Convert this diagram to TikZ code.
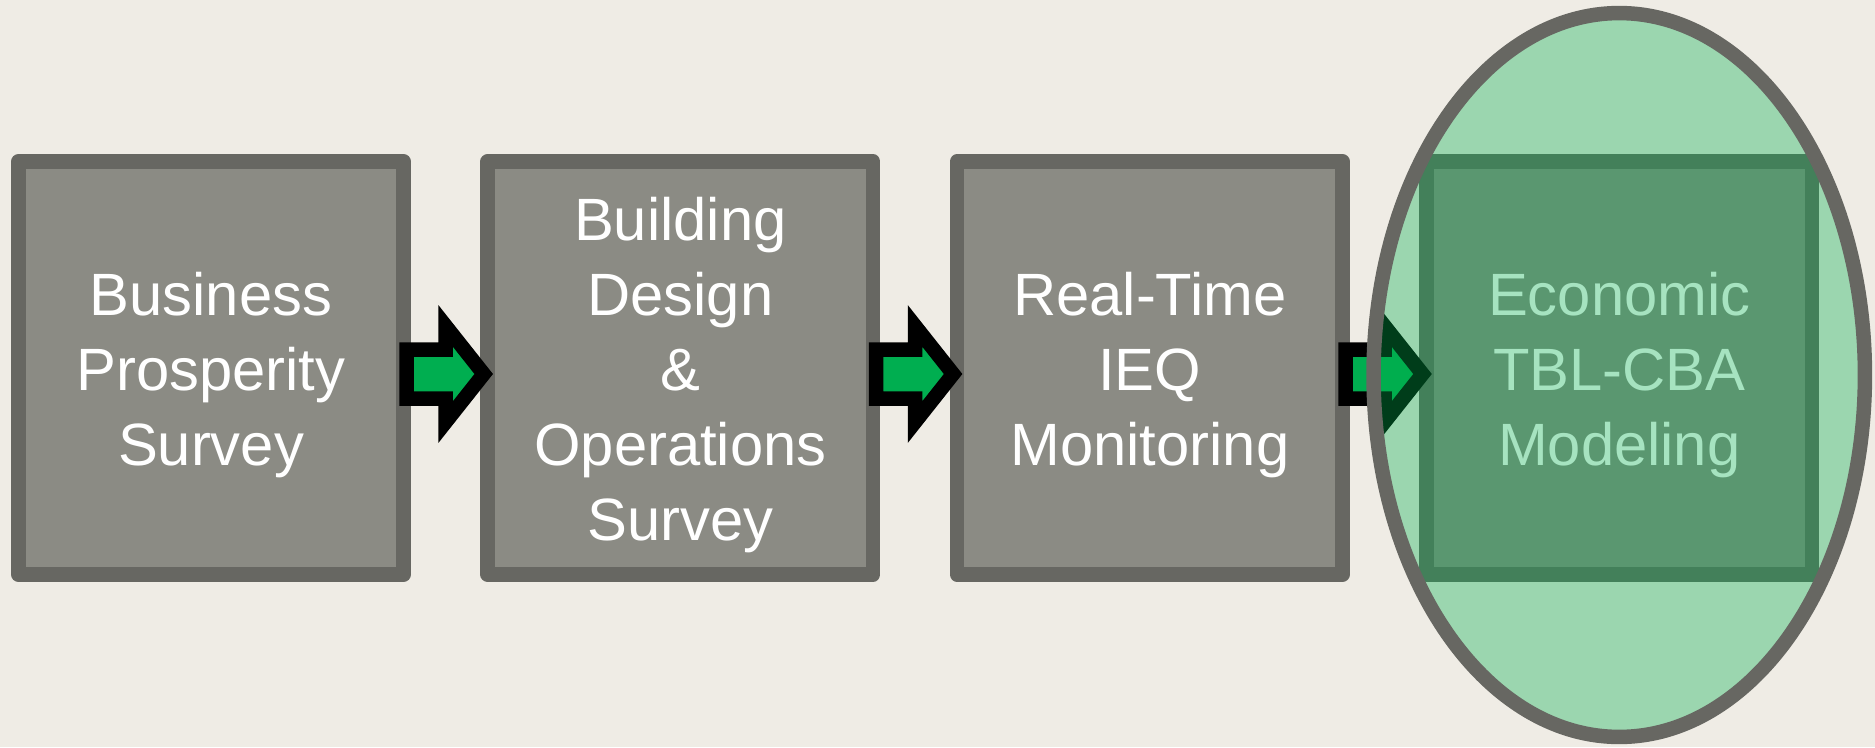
\documentclass[tikz,border=0pt]{standalone}
\usepackage{fontspec}
\setmainfont{Liberation Sans}
\usepackage{tikz}
\usetikzlibrary{positioning,calc,shapes.geometric}
\definecolor{paper}{RGB}{239,236,229}
\definecolor{stagefill}{RGB}{139,139,132}
\definecolor{stageline}{RGB}{103,103,98}
\definecolor{flowgreen}{RGB}{0,174,80}
\definecolor{zonegreen}{RGB}{0,175,76}
\def\StageWidth{7.71cm}
\def\StageHeight{8.26cm}
\def\StageGap{1.39cm}
\tikzset{
  stage/.style={draw=stageline, fill=stagefill, line width=0.29cm, line join=round,
    minimum width=\StageWidth, minimum height=\StageHeight, inner sep=0pt},
  stagetext/.style={align=center, text=white, inner sep=0pt, yshift=-0.14cm,
    font=\fontsize{34}{42.7}\selectfont},
  zone/.style={ellipse, draw=stageline, line width=0.29cm, fill=zonegreen,
    fill opacity=0.35, draw opacity=1,
    minimum width=9.83cm, minimum height=14.48cm, inner sep=0pt},
  pics/flowarrow/.style={code={
    \draw[black, fill=flowgreen, line width=0.29cm, line join=miter]
      (-39,-24.5) -- (0,-24.5) -- (0,-48) -- (38,0) -- (0,48) -- (0,24.5) -- (-39,24.5) -- cycle;
  }}
}
\begin{document}
\begin{tikzpicture}[x=0.02cm, y=-0.02cm]
  \fill[paper] (0,0) rectangle (1875,747);
  \useasboundingbox (0,0) rectangle (1875,747);
  % stages
  \node[stage, label={[stagetext]center:Business\\Prosperity\\Survey}] (bps) at (211,368) {};
  \node[stage, right=\StageGap of bps,
    label={[stagetext]center:Building\\Design\\\&\\Operations\\Survey}] (bdo) {};
  \node[stage, right=\StageGap of bdo, label={[stagetext]center:Real-Time\\IEQ\\Monitoring}] (ieq) {};
  \node[stage, right=\StageGap of ieq, label={[stagetext]center:Economic\\TBL-CBA\\Modeling}] (tbl) {};
  % block arrows between stages
  \pic at ($(bps.east)!0.5!(bdo.west)+(0,6)$) {flowarrow};
  \pic at ($(bdo.east)!0.5!(ieq.west)+(0,6)$) {flowarrow};
  \pic at ($(ieq.east)!0.5!(tbl.west)+(0,6)$) {flowarrow};
  % highlight
  \node[zone] (econ) at ($(tbl.center)+(0,7)$) {};
\end{tikzpicture}
\end{document}
